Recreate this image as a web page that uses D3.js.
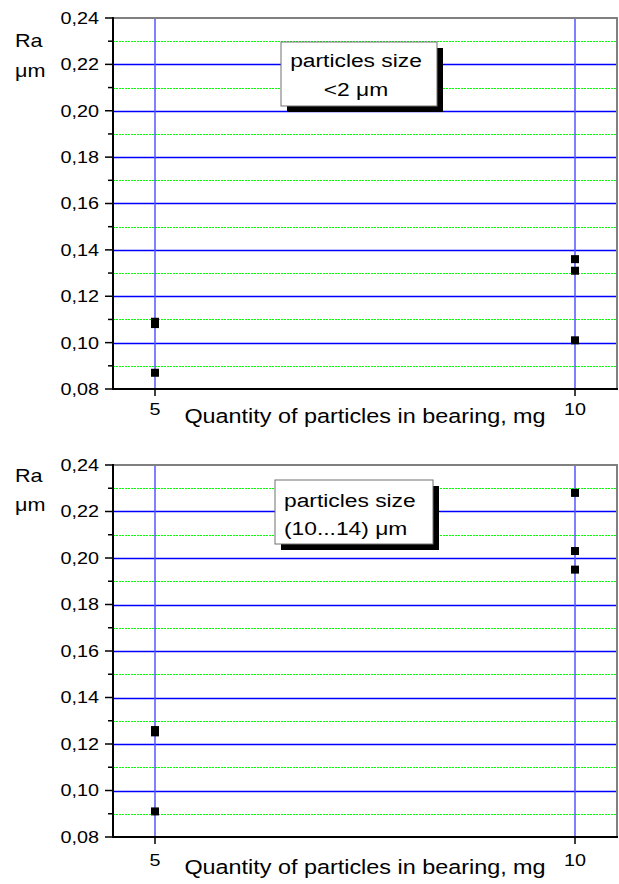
<!DOCTYPE html>
<html>
<head>
<meta charset="utf-8">
<script src="https://cdn.jsdelivr.net/npm/d3@7"></script>
<style>
  html, body { margin: 0; padding: 0; background: #fff; }
  svg { display: block; }
  text { font-family: "Liberation Sans", Arial, sans-serif; fill: #000; }
</style>
</head>
<body>
<svg id="chart" width="619" height="884"></svg>
<script>
// ---- data ----
const xTickValues = [5, 10];
const yMajorTicks = [0.08, 0.10, 0.12, 0.14, 0.16, 0.18, 0.20, 0.22, 0.24];
const yMinorTicks = [0.09, 0.11, 0.13, 0.15, 0.17, 0.19, 0.21, 0.23];
const xLabel = "Quantity of particles in bearing, mg";
const yLabel1 = "Ra";
const yLabel2 = "\u03bcm";

// chart 1: particle size <2 µm
const qty1 = [5, 5, 5, 10, 10, 10];
const ra1  = [0.108, 0.109, 0.087, 0.136, 0.131, 0.101];
const legend1 = ["particles size", "<2 \u03bcm"];

// chart 2: particle size (10...14) µm
const qty2 = [5, 5, 5, 10, 10, 10];
const ra2  = [0.125, 0.126, 0.091, 0.228, 0.203, 0.195];
const legend2 = ["particles size", "(10...14) \u03bcm"];

// ---- layout ----
const SX = 1.2; // horizontal stretch of glyphs in the reference
const svg = d3.select("#chart");
const fmt = v => d3.format(".2f")(v).replace(".", ",");

const charts = [
  { qty: qty1, ra: ra1, legend: legend1, top: 18, bottom: 389,
    raY: 47, umY: 77, tickLabY: 415, xLabY: 423,
    box: { x: 281, y: 42, w: 156, h: 64, align: "middle", l1: 25, l2: 54 } },
  { qty: qty2, ra: ra2, legend: legend2, top: 465, bottom: 837,
    raY: 482, umY: 511, tickLabY: 866, xLabY: 874,
    box: { x: 275, y: 480, w: 158, h: 64, align: "start", l1: 27, l2: 55 } }
];

const left = 113, right = 617;

charts.forEach(c => {
  const x = d3.scaleLinear().domain([4.5, 10.5]).range([left, right]);
  const y = d3.scaleLinear().domain([0.08, 0.24]).range([c.bottom, c.top]);
  const g = svg.append("g");

  // minor green dotted gridlines
  g.selectAll(".minor").data(yMinorTicks).enter().append("line")
    .attr("x1", left).attr("x2", right)
    .attr("y1", d => Math.round(y(d)) + 0.5).attr("y2", d => Math.round(y(d)) + 0.5)
    .attr("stroke", "#00ff00").attr("stroke-width", 1).attr("stroke-dasharray", "2,1")
    .attr("shape-rendering", "crispEdges");

  // major blue gridlines
  g.selectAll(".major").data(yMajorTicks.filter(d => d > 0.08 && d < 0.24)).enter().append("line")
    .attr("x1", left).attr("x2", right)
    .attr("y1", d => Math.round(y(d)) + 0.5).attr("y2", d => Math.round(y(d)) + 0.5)
    .attr("stroke", "#0000ff").attr("stroke-width", 1.3);

  // vertical blue gridlines
  g.selectAll(".vgrid").data(xTickValues).enter().append("line")
    .attr("x1", d => x(d)).attr("x2", d => x(d))
    .attr("y1", c.top).attr("y2", c.bottom)
    .attr("stroke", "#5555ff").attr("stroke-width", 1.5);

  // frame: top and right gray
  g.append("line").attr("x1", left).attr("x2", right + 1).attr("y1", c.top).attr("y2", c.top)
    .attr("stroke", "#808080").attr("stroke-width", 2);
  g.append("line").attr("x1", right).attr("x2", right).attr("y1", c.top).attr("y2", c.bottom)
    .attr("stroke", "#808080").attr("stroke-width", 2);

  // left axis ticks
  g.selectAll(".ymt").data(yMajorTicks).enter().append("line")
    .attr("x1", left - 8).attr("x2", left)
    .attr("y1", d => y(d)).attr("y2", d => y(d))
    .attr("stroke", "#000").attr("stroke-width", 1.5);
  g.selectAll(".ymn").data(yMinorTicks).enter().append("line")
    .attr("x1", left - 5).attr("x2", left)
    .attr("y1", d => y(d)).attr("y2", d => y(d))
    .attr("stroke", "#000").attr("stroke-width", 1.5);
  g.selectAll(".ylab").data(yMajorTicks).enter().append("text")
    .attr("transform", d => `translate(${left - 14},${y(d)}) scale(${SX},1)`)
    .attr("text-anchor", "end").attr("dy", "0.36em")
    .style("font-size", "16.5px").text(d => fmt(d));

  // axes lines
  g.append("line").attr("x1", left).attr("x2", left).attr("y1", c.top - 1).attr("y2", c.bottom + 1)
    .attr("stroke", "#000").attr("stroke-width", 2);
  g.append("line").attr("x1", left - 1).attr("x2", right + 1).attr("y1", c.bottom).attr("y2", c.bottom)
    .attr("stroke", "#000").attr("stroke-width", 2);

  // x ticks
  g.selectAll(".xt").data(xTickValues).enter().append("line")
    .attr("x1", d => x(d)).attr("x2", d => x(d))
    .attr("y1", c.bottom).attr("y2", c.bottom + 7)
    .attr("stroke", "#000").attr("stroke-width", 1.5);
  g.selectAll(".xlab").data(xTickValues).enter().append("text")
    .attr("transform", d => `translate(${x(d)},${c.tickLabY}) scale(${SX},1)`)
    .attr("text-anchor", "middle").style("font-size", "16.5px").text(d => d);

  // axis labels
  g.append("text").attr("transform", `translate(${(left + right) / 2},${c.xLabY}) scale(${SX},1)`)
    .attr("text-anchor", "middle").style("font-size", "19.5px").text(xLabel);
  g.append("text").attr("transform", `translate(15,${c.raY}) scale(${SX},1)`)
    .style("font-size", "18px").text(yLabel1);
  g.append("text").attr("transform", `translate(15,${c.umY}) scale(${SX},1)`)
    .style("font-size", "18px").text(yLabel2);

  // legend box with shadow
  const b = c.box;
  g.append("rect").attr("x", b.x + 6).attr("y", b.y + 6).attr("width", b.w).attr("height", b.h)
    .attr("fill", "#000");
  g.append("rect").attr("x", b.x).attr("y", b.y).attr("width", b.w).attr("height", b.h)
    .attr("fill", "#fff").attr("stroke", "#707070").attr("stroke-width", 1);
  const tx = b.align === "middle" ? b.x + b.w / 2 - 3 : b.x + 9;
  [b.l1, b.l2].forEach((dy, i) => {
    g.append("text").attr("transform", `translate(${tx},${b.y + dy}) scale(${SX},1)`)
      .attr("text-anchor", b.align).style("font-size", "19px").text(c.legend[i]);
  });

  // data points
  const pts = c.qty.map((q, i) => ({ q, r: c.ra[i] }));
  g.selectAll(".pt").data(pts).enter().append("rect")
    .attr("x", d => x(d.q) - 4).attr("y", d => y(d.r) - 4)
    .attr("width", 8).attr("height", 8).attr("fill", "#000");
});
</script>
</body>
</html>
